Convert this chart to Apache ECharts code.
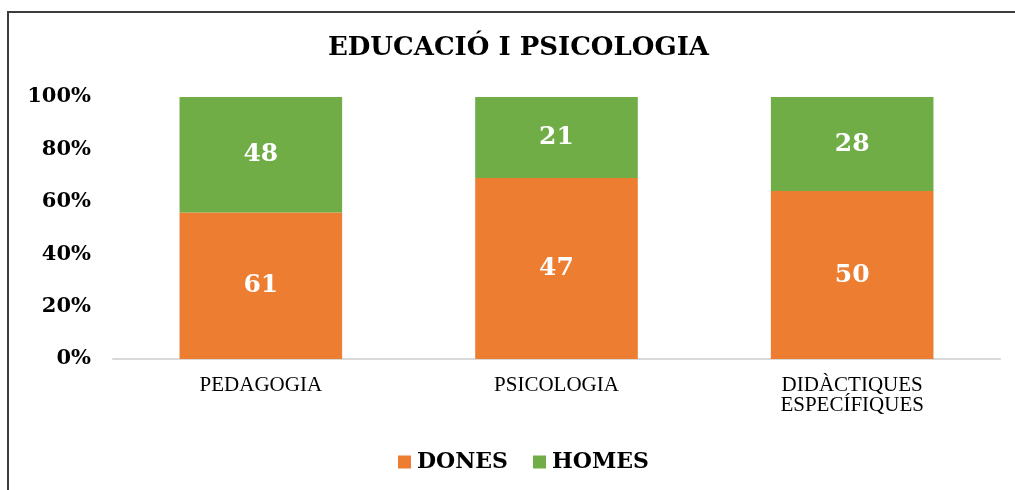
<!DOCTYPE html>
<html>
<head>
<meta charset="utf-8">
<title>EDUCACIÓ I PSICOLOGIA</title>
<script src="https://cdn.jsdelivr.net/npm/echarts@6/dist/echarts.min.js"></script>
<style>
  html, body { margin: 0; padding: 0; background: #fff; }
  #chart { width: 1015px; height: 490px; }
</style>
</head>
<body>
<div id="chart"></div>
<script>
// Headcounts per field of study
const categories = ['PEDAGOGIA', 'PSICOLOGIA', 'DIDÀCTIQUES\nESPECÍFIQUES'];
const dones = [61, 47, 50];
const homes = [48, 21, 28];
const yTicks = [0, 20, 40, 60, 80, 100];

// 100% stacked shares built from the counts
const totals = dones.map((d, i) => d + homes[i]);
const donesPct = dones.map((d, i) => d / totals[i] * 100);
const homesPct = homes.map((h, i) => h / totals[i] * 100);

const chart = echarts.init(document.getElementById('chart'));

const labelStyle = {
  show: true,
  position: 'inside',
  color: '#ffffff',
  fontFamily: 'DejaVu Serif',
  fontWeight: 'bold',
  fontSize: 25
};

chart.setOption({
  animation: false,
  backgroundColor: '#ffffff',
  title: {
    text: 'EDUCACIÓ I PSICOLOGIA',
    left: 328,
    top: 35,
    padding: 0,
    textStyle: {
      fontFamily: 'DejaVu Serif',
      fontWeight: 'bold',
      fontSize: 26,
      color: '#000000'
    }
  },
  legend: {
    left: 398,
    top: 451,
    padding: 0,
    itemWidth: 13,
    itemHeight: 13,
    itemGap: 25,
    icon: 'rect',
    textStyle: {
      fontFamily: 'DejaVu Serif',
      fontWeight: 'bold',
      fontSize: 22,
      color: '#000000',
      padding: [0, 0, 0, 1]
    },
    data: ['DONES', 'HOMES']
  },
  grid: { left: 113, right: 15, top: 97, bottom: 131, containLabel: false },
  xAxis: {
    type: 'category',
    data: categories,
    axisLine: { lineStyle: { color: '#d9d9d9', width: 2 } },
    axisTick: { show: false },
    axisLabel: {
      margin: 16,
      fontFamily: 'Liberation Serif',
      fontSize: 21,
      lineHeight: 20,
      color: '#000000'
    }
  },
  yAxis: {
    type: 'value',
    min: yTicks[0],
    max: yTicks[yTicks.length - 1],
    interval: 20,
    splitLine: { show: false },
    axisLine: { show: false },
    axisTick: { show: false },
    axisLabel: {
      margin: 22,
      formatter: '{value}%',
      fontFamily: 'DejaVu Serif',
      fontWeight: 'bold',
      fontSize: 21,
      color: '#000000'
    }
  },
  series: [
    {
      name: 'DONES',
      type: 'bar',
      stack: 'total',
      barCategoryGap: '45%',
      itemStyle: { color: '#ed7d31' },
      label: Object.assign({}, labelStyle, { formatter: p => String(dones[p.dataIndex]) }),
      data: donesPct
    },
    {
      name: 'HOMES',
      type: 'bar',
      stack: 'total',
      barCategoryGap: '45%',
      itemStyle: { color: '#70ad47' },
      label: Object.assign({}, labelStyle, { formatter: p => String(homes[p.dataIndex]) }),
      data: homesPct
    }
  ],
  graphic: [
    {
      type: 'line',
      silent: true,
      shape: { x1: 8, y1: 11, x2: 8, y2: 490 },
      style: { stroke: '#3c3c3c', lineWidth: 2 }
    },
    {
      type: 'line',
      silent: true,
      shape: { x1: 7, y1: 12, x2: 1015, y2: 12 },
      style: { stroke: '#3c3c3c', lineWidth: 2 }
    }
  ]
});
</script>
</body>
</html>
